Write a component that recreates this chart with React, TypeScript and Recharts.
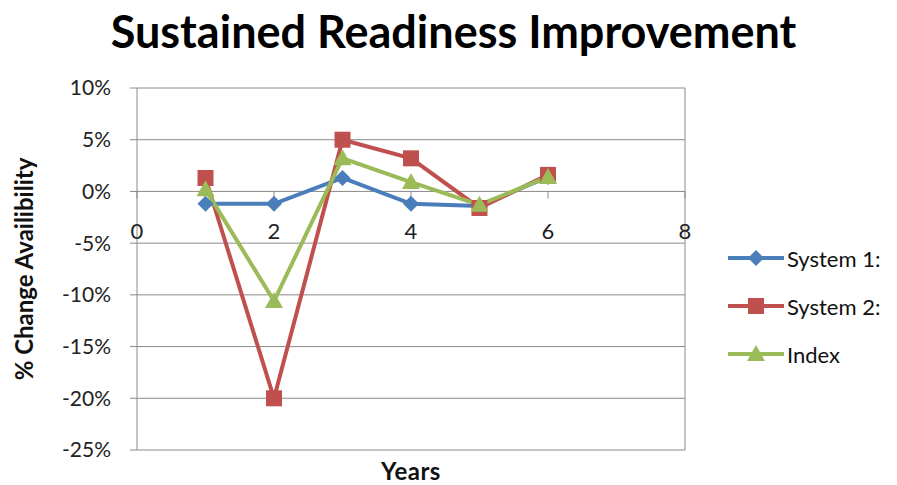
import { LineChart, Line, XAxis, YAxis, CartesianGrid, ReferenceLine, ReferenceDot } from 'recharts';

// years on the x axis
const years = [1, 2, 3, 4, 5, 6];
// % change in availability
const system1 = [-1.2, -1.2, 1.3, -1.2, -1.4, 1.4];
const system2 = [1.3, -20, 5, 3.2, -1.6, 1.6];
const indexSeries = [0.2, -10.6, 3.2, 0.9, -1.3, 1.4];

const xTicks = [0, 2, 4, 6, 8];
const yTicks = [-25, -20, -15, -10, -5, 0, 5, 10];

const data = years.map((year, i) => ({
  year,
  s1: system1[i],
  s2: system2[i],
  idx: indexSeries[i],
}));

const FONT = 'Lato, "Open Sans", sans-serif';
const GRID = '#8a8a8a';
const BLUE = '#4a7ebb';
const RED = '#c0504d';
const GREEN = '#9bbb59';

const Diamond = ({ cx, cy, fill }: any) => (
  <polygon points={`${cx},${cy - 8} ${cx + 8},${cy} ${cx},${cy + 8} ${cx - 8},${cy}`} fill={fill} />
);
const Square = ({ cx, cy, fill }: any) => <rect x={cx - 8} y={cy - 8} width={16} height={16} fill={fill} />;
const Triangle = ({ cx, cy, fill }: any) => (
  <polygon points={`${cx},${cy - 9} ${cx + 9},${cy + 7} ${cx - 9},${cy + 7}`} fill={fill} />
);

const series = [
  { key: 's1', name: 'System 1:', color: BLUE, Marker: Diamond },
  { key: 's2', name: 'System 2:', color: RED, Marker: Square },
  { key: 'idx', name: 'Index', color: GREEN, Marker: Triangle },
];

export default function App() {
  return (
    <div style={{ position: 'absolute', left: 0, top: 0, width: 897, height: 485, background: '#fff' }}>
      <div
        style={{
          position: 'absolute',
          left: 0,
          top: 4,
          width: 907,
          textAlign: 'center',
          fontFamily: FONT,
          fontWeight: 700,
          fontSize: 45,
          color: '#000',
        }}
      >
        Sustained Readiness Improvement
      </div>
      <LineChart width={897} height={485} data={data} margin={{ top: 88, right: 212, bottom: 0, left: 57 }}>
        <CartesianGrid vertical={false} stroke={GRID} strokeWidth={1} />
        <XAxis
          type="number"
          dataKey="year"
          domain={[0, 8]}
          ticks={xTicks}
          tick={false}
          axisLine={false}
          tickLine={false}
          height={35}
          label={{ value: 'Years', position: 'insideBottom', offset: 5, fontFamily: FONT, fontWeight: 700, fontSize: 24, letterSpacing: 0.5, fill: '#111' }}
        />
        <YAxis
          type="number"
          domain={[-25, 10]}
          ticks={yTicks}
          width={80}
          tickFormatter={(v: number) => `${v}%`}
          tick={{ fontFamily: FONT, fontSize: 21, fill: '#222' }}
          stroke={GRID}
          tickSize={7}
          tickMargin={19}
          label={{ value: '% Change Availibility', angle: -90, position: 'center', dx: -73, fontFamily: FONT, fontWeight: 700, fontSize: 24, fill: '#111' }}
        />
        <ReferenceLine x={8} stroke={GRID} />
        {xTicks.map((t) => (
          <ReferenceLine key={`tm-${t}`} segment={[{ x: t, y: 0 }, { x: t, y: -0.7 }]} stroke={GRID} />
        ))}
        {xTicks.map((t) => (
          <ReferenceDot
            key={`tl-${t}`}
            x={t}
            y={0}
            r={0}
            fill="none"
            stroke="none"
            label={{ value: String(t), position: 'bottom', offset: 32, fontFamily: FONT, fontSize: 22, fill: '#222' }}
          />
        ))}
        {series.map((s) => (
          <Line
            key={s.key}
            dataKey={s.key}
            name={s.name}
            stroke={s.color}
            strokeWidth={4}
            dot={<s.Marker fill={s.color} />}
            isAnimationActive={false}
          />
        ))}
      </LineChart>
      <div style={{ position: 'absolute', left: 728, top: 234, fontFamily: FONT, fontSize: 22, color: '#111' }}>
        {series.map((s) => (
          <div key={s.key} style={{ display: 'flex', alignItems: 'center', height: 48 }}>
            <svg width={56} height={20}>
              <line x1={0} y1={10} x2={56} y2={10} stroke={s.color} strokeWidth={4} />
              <s.Marker cx={28} cy={10} fill={s.color} />
            </svg>
            <span style={{ marginLeft: 3 }}>{s.name}</span>
          </div>
        ))}
      </div>
    </div>
  );
}
